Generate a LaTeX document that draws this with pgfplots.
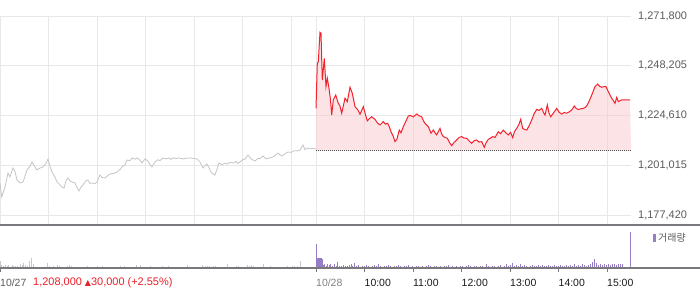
\documentclass[border=0pt]{standalone}
\usepackage{pgfplots}
\pgfplotsset{compat=1.18}
\usepgfplotslibrary{fillbetween}
\usepackage{pgfplotstable}
\usepackage{fontspec}
\setmainfont{Liberation Sans}
\newfontfamily\krfont{Noto Sans CJK KR}
\newfontfamily\symfont{DejaVu Sans}
\definecolor{upred}{RGB}{242,35,45}
\definecolor{prevgray}{RGB}{196,196,202}
\definecolor{gridc}{RGB}{232,232,232}
\definecolor{volpurple}{RGB}{150,125,200}
\definecolor{volgray}{RGB}{200,200,200}
\definecolor{lblgray}{RGB}{90,90,90}
\definecolor{axisc}{RGB}{120,120,125}
\definecolor{pinkfill}{RGB}{250,200,206}

% previous day (10/27) price line, x = time position (px units), y = price
\pgfplotstableread{
x price
0 1192600
1.7 1186000
5 1190700
8 1197300
10 1195500
13 1199700
15 1198000
17 1194000
20 1192600
23 1193100
25 1195800
27 1198800
30 1200500
32 1202600
35 1200200
37 1198800
40 1199700
43 1200200
46 1201800
48 1204000
50 1200500
52 1197800
55 1195400
57 1193100
60 1191700
62 1190700
64 1190200
66 1193500
68 1195000
70 1193600
72 1193100
75 1192600
77 1190500
79 1188800
81 1190700
83 1191600
86 1193800
88 1194000
90 1192400
92 1192600
95 1192200
97 1193100
100 1196400
102 1195200
105 1195000
108 1196200
110 1196900
114 1197200
117 1197800
120 1199000
122 1200200
125 1201200
127 1203500
130 1203200
132 1204500
135 1203900
137 1204500
140 1203400
142 1202100
145 1204000
148 1203000
150 1201400
152 1200200
155 1202600
158 1203600
160 1203200
163 1204500
166 1204000
169 1204500
171 1203800
173 1204500
176 1204200
179 1204500
183 1204000
186 1204300
190 1204500
194 1204200
197 1204000
200 1202600
203 1199700
205 1200800
207 1201600
209 1199800
211 1197800
213 1196900
215 1196400
217 1199200
219 1202100
222 1201300
225 1202000
227 1201600
230 1202300
233 1202100
236 1202800
238 1201800
240 1202600
243 1203700
245 1203900
248 1205900
251 1204000
255 1203000
258 1204300
260 1204100
263 1205400
266 1204100
270 1204500
273 1205000
275 1205700
278 1206800
280 1205900
282 1205400
285 1206500
288 1207300
291 1207100
294 1207900
297 1207800
300 1208200
303 1210600
305 1208400
307 1209200
310 1208800
313 1209000
316 1208700
}\prevday

% 10/28 intraday price line
\pgfplotstableread{
x price
316 1228000
317.3 1249400
318.3 1250100
320 1264100
321 1263600
322.3 1241400
324.3 1251700
326 1238300
327.3 1242300
329 1237500
330.5 1232000
331.7 1224800
333.3 1232000
335.7 1234300
338.3 1230400
340 1229000
341.7 1225700
343.5 1229500
345 1232800
347.3 1231200
350 1238000
352.3 1235100
355 1228800
357.5 1227500
360 1225200
363.3 1228800
365.5 1225000
367.3 1222100
369.5 1223200
371.7 1224000
375 1222800
377.5 1221000
380 1220100
383.3 1221700
385.5 1220500
387.7 1220900
389.5 1219000
391 1216900
393 1215000
395 1212200
397 1213500
399.3 1217700
401 1216400
403.3 1219300
406 1222000
408.3 1224400
410.5 1224600
413.3 1224000
416.7 1225300
419 1224500
421.7 1224000
423.5 1222000
425 1220900
428.3 1219300
431 1216200
433.3 1217700
435 1216400
436.7 1215400
440 1218500
441.5 1216000
443.3 1214600
447.3 1213800
449.5 1211800
451.7 1210300
454 1211800
456.7 1213000
459 1214200
461.7 1214600
464 1213900
466.7 1213800
469 1212600
471.7 1211400
474 1212600
476.7 1213000
479 1212000
481.7 1212200
484.3 1209500
486 1211600
488.3 1213300
490.5 1213900
492.7 1214600
495 1214200
498.3 1216900
500.5 1216000
503.3 1217700
506 1216300
508.3 1215400
510.5 1216600
512.7 1214100
514.5 1217000
516.7 1218500
519 1220500
520.7 1222800
522.7 1218500
524.5 1218000
526.7 1217700
529 1219600
531.7 1222500
534 1225300
536.7 1227500
539 1227000
541.7 1228000
543.5 1226000
545 1224800
547.3 1229600
549 1225800
550.7 1224000
553.3 1225700
556.7 1228000
559 1226200
561.7 1225300
564 1226000
566.7 1225700
569 1226300
571.7 1227200
574.3 1229100
576.5 1227800
578.3 1227500
581 1227800
583.3 1228000
585.5 1228500
587.3 1229600
589.5 1231800
591.7 1234300
593.5 1236500
595 1238300
597.7 1239500
599.5 1238500
601.7 1238000
604 1238300
606 1238300
608.3 1235900
610 1234300
611.7 1232800
613.5 1231500
615 1230400
616.7 1233200
618.3 1231200
620 1231600
621.7 1232000
625 1232000
630 1232000
}\todaytab

% volume, previous day (px-height units)
\pgfplotstableread{
x vol
0 7
1 3
3 2
5 3
7 2
8 3
10 1
12 3
13 2
15 2
17 2
20 4
22 3
23 5
25 3
27 2
29 7
31 10
33 4
35 1
37 1
39 1
41 1
43 1
45 1
47 5
49 2
51 1
53 2
55 1
57 3
59 2
61 1
63 1
65 1
67 2
69 3
71 2
73 1
75 1
77 1
79 1
81 1
83 1
87 2
89 1
93 1
97 2
99 1
102 2
104 1
108 1
110 1
112 1
116 1
120 2
122 1
124 2
128 1
130 1
134 1
136 3
138 1
140 3
143 1
146 1
150 2
154 1
158 1
162 2
164 1
168 2
170 1
173 1
178 1
181 1
185 1
187 3
190 1
193 1
196 1
199 1
202 3
205 2
207 2
209 2
211 1
213 2
215 2
218 1
220 1
222 1
224 1
227 4
230 1
233 1
236 2
238 2
240 1
242 1
245 1
247 3
249 2
251 3
253 2
256 1
259 1
263 4
266 1
268 1
270 2
273 1
276 1
280 1
284 1
287 2
289 1
292 2
294 2
297 2
300 7
302 1
304 1
306 1
308 1
}\prevvol

% volume, 10/28
\pgfplotstableread{
x vol
316 24
317 10
318 10
319 10
320 10
321 10
322 9
323 3
324 4
326 2
327 4
329 3
330 4
332 2
334 4
336 2
337 6
339 2
341 2
343 3
345 2
347 2
349 3
351 4
352 2
354 5
356 2
358 3
360 1
362 2
364 2
366 3
368 2
370 1
372 2
374 3
376 2
378 4
380 2
382 1
384 2
386 2
388 3
390 2
392 1
394 2
396 2
398 3
400 2
402 1
404 2
406 2
408 3
410 1
412 2
414 1
416 2
418 2
420 1
422 2
424 1
426 2
428 3
430 2
432 1
434 2
436 2
438 1
440 2
442 1
444 2
446 2
448 3
450 1
452 2
454 1
456 2
458 1
460 2
462 2
464 1
466 2
468 3
470 2
472 1
474 2
476 2
478 1
480 2
482 2
484 1
486 4
488 2
490 1
492 2
494 2
496 1
498 2
500 3
502 1
504 2
506 4
508 2
510 3
512 5
514 2
516 3
518 2
520 4
522 2
524 3
526 2
528 1
530 2
532 3
534 2
536 2
538 3
540 2
542 3
544 2
546 2
548 3
550 2
552 2
554 3
556 2
558 2
560 3
562 2
564 2
566 3
568 2
570 3
572 2
574 4
576 2
578 3
580 2
582 4
584 3
586 2
588 3
590 4
592 6
594 9
596 5
598 3
600 4
602 3
604 4
606 3
608 4
610 3
612 4
614 4
616 3
618 4
620 4
622 4
630.5 36
}\todayvol

\begin{document}
\begin{tikzpicture}

% ---------- price panel ----------
\begin{axis}[
  at={(0bp,64bp)}, anchor=south west, scale only axis,
  width=631bp, height=209bp,
  xmin=0, xmax=631, ymin=1172671, ymax=1271800,
  scaled y ticks=false, scaled x ticks=false,
  axis line style={draw=none},
  xtick={0,48.5,97,145.5,194,242.5,291,316,364.5,413,461.5,510,558.5,607},
  xticklabels={},
  ytick={1177420,1201015,1224610,1248205,1271800},
  yticklabels={{1,177,420},{1,201,015},{1,224,610},{1,248,205},{1,271,800}},
  yticklabel pos=right,
  yticklabel style={font=\fontsize{11}{13}\selectfont, text=lblgray, anchor=west, inner sep=0pt, xshift=7bp},
  major tick length=0pt,
  grid=major,
  grid style={gridc, line width=0.9bp},
  clip=true,
]
\addplot[prevgray, line width=0.8bp] table[x=x, y=price] {\prevday};
\addplot[name path=base, draw={rgb,255:red,80;green,80;blue,80}, line width=0.8bp, dash pattern=on 0.9bp off 1.1bp] coordinates {(316,1208000) (631,1208000)};
\addplot[name path=up, upred, line width=1bp] table[x=x, y=price] {\todaytab};
\addplot[pinkfill, fill opacity=0.5] fill between[of=up and base];
\end{axis}

% ---------- volume panel ----------
\begin{axis}[
  at={(0bp,21bp)}, anchor=south west, scale only axis,
  width=631bp, height=43bp,
  xmin=0, xmax=631, ymin=0, ymax=43,
  scaled y ticks=false, scaled x ticks=false,
  axis line style={draw=none},
  ytick=\empty,
  xtick={0,316,364.5,413,461.5,510,558.5,607},
  xticklabels={\textcolor{lblgray}{10/27},\textcolor{gray}{10/28},10:00,11:00,12:00,13:00,14:00,15:00},
  xtick pos=bottom,
  tick align=outside,
  major tick length=4bp,
  xtick style={draw=axisc, line width=0.9bp},
  xticklabel style={font=\fontsize{10.5}{12}\selectfont, text=black!90, anchor=north west, inner sep=0pt, yshift=-7bp},
  clip=false,
]
\addplot[ycomb, volgray, line width=0.9bp, mark=none] table[x=x, y=vol] {\prevvol};
\addplot[ycomb, volpurple, line width=0.9bp, mark=none] table[x=x, y=vol] {\todayvol};
\end{axis}

% panel frame lines
\draw[axisc, line width=1.3bp] (0bp,64bp) -- (700bp,64bp);
\draw[axisc, line width=1.3bp] (0bp,21bp) -- (700bp,21bp);

% previous close annotation
\node[anchor=base west, inner sep=0pt, text={rgb,255:red,235;green,30;blue,40}, font=\fontsize{11}{13}\selectfont] at (33bp,4bp)
  {1,208,000 {\symfont\fontsize{8}{9}\selectfont ▲}30,000 (+2.55\%)};

% legend
\fill[volpurple] (653bp,47bp) rectangle (656bp,55bp);
\node[anchor=west, inner sep=0pt, text=lblgray, font=\krfont\fontsize{10}{12}\selectfont] at (658bp,51bp) {거래량};

\pgfresetboundingbox
\path[use as bounding box] (0bp,0bp) rectangle (700bp,289bp);
\end{tikzpicture}
\end{document}
